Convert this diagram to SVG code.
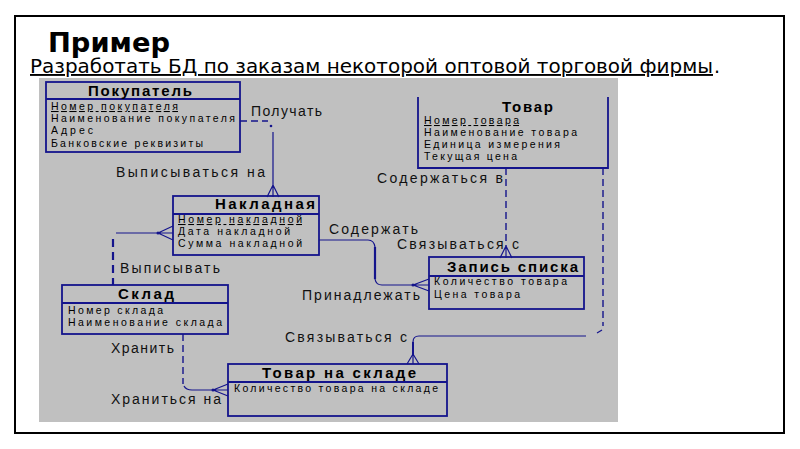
<svg xmlns="http://www.w3.org/2000/svg" width="800" height="449" viewBox="0 0 800 449">
<style>
.box{fill:none;stroke:#14148c;stroke-width:1.8}
.ln{fill:none;stroke:#14148c;stroke-width:1.2}
.dash{fill:none;stroke:#14148c;stroke-width:1.4;stroke-dasharray:7,4}
.ttl{font-family:"Liberation Sans",Arial,sans-serif;font-weight:bold;font-size:15px;fill:#000}
.att{font-family:"Liberation Sans",Arial,sans-serif;font-size:10.5px;fill:#000}
.lbl{font-family:"Liberation Sans",Arial,sans-serif;font-size:14px;fill:#111}
.dot{fill:#14148c}
</style>
<rect x="0" y="0" width="800" height="449" fill="#ffffff"/>
<rect x="15" y="16" width="769" height="417" fill="none" stroke="#000" stroke-width="2"/>
<text x="48" y="52" font-family="DejaVu Sans, sans-serif" font-weight="bold" font-size="26" textLength="122" lengthAdjust="spacingAndGlyphs">Пример</text>
<text x="30" y="73" font-family="DejaVu Sans, sans-serif" font-size="19" text-decoration="underline" textLength="683" lengthAdjust="spacingAndGlyphs">Разработать БД по заказам некоторой оптовой торговой фирмы</text>
<text x="714" y="73" font-family="DejaVu Sans, sans-serif" font-size="19">.</text>
<rect x="39" y="78" width="579" height="344" fill="#c0c0c0"/>

<g id="connectors">
  <path class="dash" d="M240,121 H268"/>
  <circle class="dot" cx="271" cy="126" r="1.3"/>
  <path class="ln" d="M273,132 V197 M273,185 L267,197 M273,185 L279,197"/>
  <path class="ln" d="M116,233 H173 M158,233 L173,226 M158,233 L173,240"/>
  <circle class="dot" cx="158" cy="233" r="1.5"/>
  <path class="dash" style="stroke-width:2.2;stroke-dasharray:8,5" d="M113,239 V285"/>
  <path class="dash" d="M183,334 V384"/>
  <path class="ln" d="M184,386 Q186,390 192,390 H228 M213,390 L228,384 M213,390 L228,396"/>
  <circle class="dot" cx="213" cy="390" r="1.5"/>
  <path class="ln" d="M413,364 V342 Q413,336 419,336 H586"/>
  <path class="ln" style="stroke-width:2" d="M413,342 V356"/>
  <path class="ln" d="M413,354 L407,364 M413,354 L419,364"/>
  <path class="dash" d="M603,168 V326"/>
  <path class="ln" d="M597,333 L602,330"/>
  <path class="dash" d="M506,168 V246"/>
  <path class="ln" d="M506,246 V258 M506,246 L500,258 M506,246 L512,258"/>
  <path class="ln" d="M319,240 H368 Q374,240 375,247"/>
  <path class="ln" style="stroke-width:2.2" d="M375,247 V279"/>
  <path class="ln" d="M375,279 Q376,285 382,285 H429 M413,285 L429,279 M413,285 L429,291"/>
  <circle class="dot" cx="413" cy="285" r="1.5"/>
</g>

<g id="labels">
  <text class="lbl" x="251" y="116" textLength="71" lengthAdjust="spacing">Получать</text>
  <text class="lbl" x="116" y="177" textLength="149" lengthAdjust="spacing">Выписываться на</text>
  <text class="lbl" x="120" y="273" textLength="100" lengthAdjust="spacing">Выписывать</text>
  <text class="lbl" x="111" y="353" textLength="63" lengthAdjust="spacing">Хранить</text>
  <text class="lbl" x="111" y="404" textLength="110" lengthAdjust="spacing">Храниться на</text>
  <text class="lbl" x="285" y="342" textLength="122" lengthAdjust="spacing">Связываться с</text>
  <text class="lbl" x="377" y="183" textLength="126" lengthAdjust="spacing">Содержаться в</text>
  <text class="lbl" x="329" y="234" textLength="89" lengthAdjust="spacing">Содержать</text>
  <text class="lbl" x="397" y="249" textLength="122" lengthAdjust="spacing">Связываться с</text>
  <text class="lbl" x="302" y="300" textLength="118" lengthAdjust="spacing">Принадлежать</text>
</g>

<g id="pokupatel">
  <rect class="box" x="46" y="82" width="194" height="70"/>
  <line class="box" x1="46" y1="99" x2="240" y2="99"/>
  <text class="ttl" x="88" y="96" textLength="104" lengthAdjust="spacing">Покупатель</text>
  <text class="att" x="51" y="110" text-decoration="underline" textLength="127" lengthAdjust="spacing">Номер покупателя</text>
  <text class="att" x="51" y="122" textLength="184" lengthAdjust="spacing">Наименование покупателя</text>
  <text class="att" x="51" y="134" textLength="42" lengthAdjust="spacing">Адрес</text>
  <text class="att" x="51" y="147" textLength="152" lengthAdjust="spacing">Банковские реквизиты</text>
</g>

<g id="tovar">
  <path class="box" d="M418,97 V168 H608 V97"/>
  <text class="ttl" x="502" y="112" textLength="51" lengthAdjust="spacing">Товар</text>
  <text class="att" x="424" y="124" text-decoration="underline" textLength="95" lengthAdjust="spacing">Номер товара</text>
  <text class="att" x="424" y="136" textLength="153" lengthAdjust="spacing">Наименование товара</text>
  <text class="att" x="424" y="148" textLength="136" lengthAdjust="spacing">Единица измерения</text>
  <text class="att" x="424" y="160" textLength="93" lengthAdjust="spacing">Текущая цена</text>
</g>

<g id="nakladnaya">
  <rect class="box" x="173" y="196" width="146" height="59"/>
  <line class="box" x1="173" y1="214" x2="319" y2="214"/>
  <text class="ttl" x="215" y="209" textLength="100" lengthAdjust="spacing">Накладная</text>
  <text class="att" x="178" y="223" text-decoration="underline" textLength="124" lengthAdjust="spacing">Номер накладной</text>
  <text class="att" x="178" y="235" textLength="112" lengthAdjust="spacing">Дата накладной</text>
  <text class="att" x="178" y="247" textLength="124" lengthAdjust="spacing">Сумма накладной</text>
</g>

<g id="sklad">
  <rect class="box" x="62" y="285" width="166" height="49"/>
  <line class="box" x1="62" y1="303" x2="228" y2="303"/>
  <text class="ttl" x="118" y="299" textLength="56" lengthAdjust="spacing">Склад</text>
  <text class="att" x="68" y="314" textLength="95" lengthAdjust="spacing">Номер склада</text>
  <text class="att" x="68" y="326" textLength="154" lengthAdjust="spacing">Наименование склада</text>
</g>

<g id="zapis">
  <rect class="box" x="429" y="257" width="155" height="52"/>
  <line class="box" x1="429" y1="276" x2="584" y2="276"/>
  <text class="ttl" x="447" y="272" textLength="131" lengthAdjust="spacing">Запись списка</text>
  <text class="att" x="434" y="285" textLength="133" lengthAdjust="spacing">Количество товара</text>
  <text class="att" x="434" y="298" textLength="86" lengthAdjust="spacing">Цена товара</text>
</g>

<g id="tovar-na-sklade">
  <rect class="box" x="228" y="364" width="219" height="52"/>
  <line class="box" x1="228" y1="382" x2="447" y2="382"/>
  <text class="ttl" x="262" y="378" textLength="154" lengthAdjust="spacing">Товар на складе</text>
  <text class="att" x="234" y="392" textLength="204" lengthAdjust="spacing">Количество товара на складе</text>
</g>
</svg>
